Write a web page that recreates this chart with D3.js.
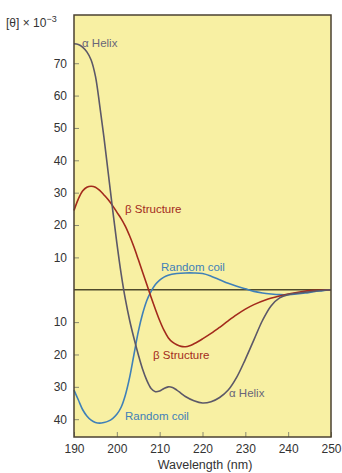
<!DOCTYPE html>
<html><head><meta charset="utf-8">
<script src="https://cdn.jsdelivr.net/npm/d3@7"></script>
<style>
html,body{margin:0;padding:0;background:#fff;}
svg{display:block;font-family:"Liberation Sans",Arial,sans-serif;}
</style></head>
<body>
<svg id="c" width="342" height="473"></svg>
<script>
// Wavelength (nm) and [θ]×10^-3 values
const helixX = [190,191,192,193,194,195,196,197,198,199,200,201,202,203,204,205,206,207,208,209,210,211,212,213,214,215,216,218,220,222,224,226,228,230,232,234,236,238,240,245,250];
const helixY = [76,75.8,75,73.5,71,66,57,47,36,25,14.5,5,-3,-9.5,-15,-20,-24.5,-28,-30.5,-31.5,-31.3,-30.5,-30,-30.2,-31,-32,-33,-34.3,-35,-34.6,-33.3,-31,-27,-21.5,-15.5,-9.5,-5,-2.5,-1.5,-0.6,0];
const betaX = [190,191,192,193,194,195,196,197,198,199,200,201,202,203,204,205,206,207,208,209,210,211,212,213,214,215,216,217,218,219,220,222,224,226,228,230,232,235,238,240,243,246,250];
const betaY = [24.5,28,30.5,31.7,32,31.7,30.7,29.3,27.8,26,24,22,19.6,16.6,13.2,9.4,5.5,1.6,-2.3,-6,-9.5,-12.5,-14.8,-16.2,-17,-17.5,-17.6,-17.3,-16.7,-16,-15.2,-13.5,-11.6,-9.6,-7.7,-6,-4.6,-3,-1.9,-1.3,-0.6,-0.2,0];
const coilX = [190,191,192,193,194,195,196,197,198,199,200,201,202,203,204,205,206,207,208,209,210,211,212,214,216,218,220,222,224,226,228,230,232,234,236,238,240,242,244,246,248,250];
const coilY = [-31,-34,-37,-39,-40.3,-41,-41.2,-41,-40.6,-39.8,-38.5,-36.3,-32.5,-27,-20,-13,-7.5,-3.3,-0.5,1.6,3,3.9,4.5,5,5.2,5.2,5,4.2,3.1,2,1.1,0.3,-0.5,-1,-1.3,-1.5,-1.5,-1.3,-1,-0.6,-0.3,0];
const xTicks = [190,200,210,220,230,240,250];
const yTicks = [-40,-30,-20,-10,10,20,30,40,50,60,70];

const svg = d3.select("#c");
const L=74,R=331,T=15,B=437;
const x = d3.scaleLinear().domain([190,250]).range([L,R]);
const y = d3.scaleLinear().domain([-45.5,84.9]).range([B,T]);

svg.append("rect").attr("x",L).attr("y",T).attr("width",R-L).attr("height",B-T).attr("fill","#f8f0a3");

// ticks
const gy = svg.append("g").attr("transform",`translate(${L},0)`)
  .call(d3.axisLeft(y).tickValues(yTicks).tickSize(-5).tickPadding(7).tickFormat(d=>Math.abs(d)));
gy.select(".domain").remove();
gy.selectAll(".tick line").attr("stroke","#8a8a70").attr("stroke-width",1);
gy.selectAll(".tick text").attr("font-size",12).attr("fill","#333").attr("font-family","Liberation Sans, Arial, sans-serif");

const gx = svg.append("g").attr("transform",`translate(0,${B})`)
  .call(d3.axisBottom(x).tickValues(xTicks).tickSize(-5).tickPadding(7).tickFormat(d3.format("d")));
gx.select(".domain").remove();
gx.selectAll(".tick line").attr("stroke","#8a8a70").attr("stroke-width",1);
gx.selectAll(".tick text").attr("font-size",12).attr("fill","#333").attr("font-family","Liberation Sans, Arial, sans-serif");

// zero line
svg.append("line").attr("x1",L).attr("x2",R).attr("y1",y(0)).attr("y2",y(0)).attr("stroke","#4f4a2c").attr("stroke-width",1.4);

const line = d3.line().x(d=>x(d[0])).y(d=>y(d[1])).curve(d3.curveCatmullRom.alpha(0.5));
const series = [
  {xs:coilX, ys:coilY, c:"#3f80b8"},
  {xs:betaX, ys:betaY, c:"#a32a1c"},
  {xs:helixX, ys:helixY, c:"#5c5868"}
];
series.forEach(s=>{
  svg.append("path").datum(s.xs.map((v,i)=>[v,s.ys[i]])).attr("d",line)
    .attr("fill","none").attr("stroke",s.c).attr("stroke-width",1.6);
});

// frame
svg.append("rect").attr("x",L).attr("y",T).attr("width",R-L).attr("height",B-T).attr("fill","none").attr("stroke","#4b4232").attr("stroke-width",1.5);

// labels
const labels = [
  {t:"α Helix", x:82, y:47, c:"#6a6678"},
  {t:"β Structure", x:125, y:213, c:"#a32a1c"},
  {t:"Random coil", x:161, y:271, c:"#3f80b8"},
  {t:"β Structure", x:153, y:359, c:"#a32a1c"},
  {t:"α Helix", x:229, y:397, c:"#6a6678"},
  {t:"Random coil", x:125, y:420, c:"#3f80b8"}
];
labels.forEach(l=>{
  svg.append("text").attr("x",l.x).attr("y",l.y).attr("fill",l.c).attr("font-size",11.5).text(l.t);
});

// y title
const yt = svg.append("text").attr("x",6).attr("y",27).attr("font-size",12).attr("fill","#333");
yt.append("tspan").text("[θ] × 10");
yt.append("tspan").attr("dy",-5).attr("font-size",9).text("−3");

svg.append("text").attr("x",205).attr("y",469).attr("text-anchor","middle").attr("font-size",12.5).attr("fill","#333").text("Wavelength (nm)");
</script>
</body></html>
